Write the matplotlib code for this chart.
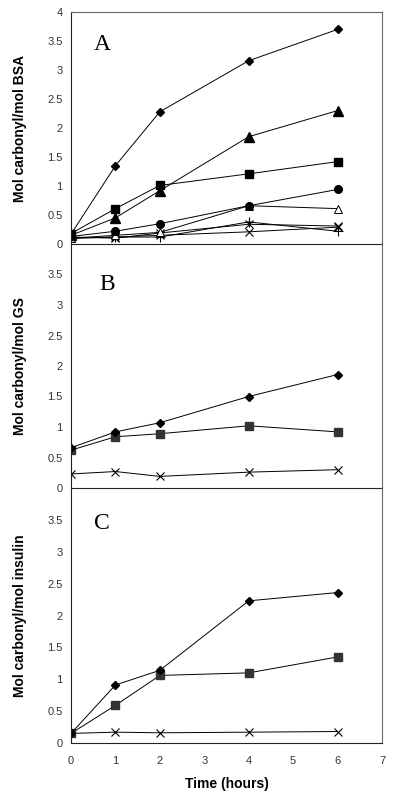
import numpy as np
import matplotlib
matplotlib.use('Agg')
from matplotlib import pyplot as plt

plt.rcParams['font.family'] = ['Liberation Sans', 'DejaVu Sans']

## Data
hours = [0, 1, 2, 4, 6]

## Panel A: BSA
bsa_diamond = [0.17, 1.35, 2.28, 3.16, 3.70]
bsa_triangle = [0.15, 0.45, 0.92, 1.85, 2.30]
bsa_square = [0.18, 0.61, 1.01, 1.21, 1.42]
bsa_circle = [0.13, 0.22, 0.35, 0.66, 0.94]
bsa_open_tri = [0.10, 0.15, 0.20, 0.66, 0.61]
bsa_plus = [0.10, 0.12, 0.12, 0.38, 0.22]
bsa_star = [0.12, 0.10, 0.19, 0.34, 0.31]
bsa_x = [0.10, 0.12, 0.15, 0.21, 0.29]

## Panel B: GS
gs_diamond = [0.66, 0.92, 1.07, 1.50, 1.86]
gs_square = [0.62, 0.84, 0.89, 1.02, 0.92]
gs_x = [0.23, 0.27, 0.19, 0.26, 0.30]

## Panel C: insulin
ins_diamond = [0.15, 0.91, 1.14, 2.23, 2.36]
ins_square = [0.15, 0.59, 1.06, 1.10, 1.35]
ins_x = [0.15, 0.17, 0.16, 0.17, 0.18]

yticks_top = [0, 0.5, 1, 1.5, 2, 2.5, 3, 3.5, 4]
yticks_low = [0, 0.5, 1, 1.5, 2, 2.5, 3, 3.5]
xticks = [0, 1, 2, 3, 4, 5, 6, 7]

##-------------------------------------------------------------------------
## Figure
##-------------------------------------------------------------------------
fig = plt.figure(figsize=(4, 8.08), dpi=100)
W = 400.
H = 808.
left = 71 / W
width = 311 / W
axA = fig.add_axes([left, 1 - 244 / H, width, 232 / H])
axB = fig.add_axes([left, 1 - 488 / H, width, 244 / H])
axC = fig.add_axes([left, 1 - 743 / H, width, 255 / H])

lw = 0.7
kw = dict(color='k', lw=lw)
sq_col = '#333333'

# Panel A
axA.plot(hours, bsa_x, marker='x', ms=5.5, mew=0.8, **kw)
axA.plot(hours, bsa_star, marker='x', ms=5.5, mew=0.8, **kw)
axA.plot(hours, bsa_plus, marker='+', ms=7, mew=0.8, **kw)
axA.plot(hours, bsa_open_tri, marker='^', ms=5.5, mfc='white', mec='k', mew=0.7, **kw)
axA.plot(hours, bsa_circle, marker='o', ms=5.5, **kw)
axA.plot(hours, bsa_square, marker='s', ms=5.5, **kw)
axA.plot(hours, bsa_triangle, marker='^', ms=6.5, **kw)
axA.plot(hours, bsa_diamond, marker='D', ms=4.5, **kw)

# Panel B
axB.plot(hours, gs_x, marker='x', ms=5.5, mew=0.8, **kw)
axB.plot(hours, gs_square, marker='s', ms=5.5, mfc=sq_col, mec=sq_col, color='k', lw=lw)
axB.plot(hours, gs_diamond, marker='D', ms=4.5, **kw)

# Panel C
axC.plot(hours, ins_x, marker='x', ms=5.5, mew=0.8, **kw)
axC.plot(hours, ins_square, marker='s', ms=5.5, mfc=sq_col, mec=sq_col, color='k', lw=lw)
axC.plot(hours, ins_diamond, marker='D', ms=4.5, **kw)

labels = ['Mol carbonyl/mol BSA', 'Mol carbonyl/mol GS', 'Mol carbonyl/mol insulin']
letters = ['A', 'B', 'C']
letter_pos = [(0.10, 0.86), (0.115, 0.836), (0.10, 0.859)]
for ax, lab, let, pos in zip([axA, axB, axC], labels, letters, letter_pos):
    ax.patch.set_visible(False)
    ax.set_xlim(0, 7)
    ax.set_ylim(0, 4)
    ax.set_xticks(xticks)
    ax.tick_params(length=0, labelsize=8, labelcolor='#333333')
    ax.tick_params(axis='y', pad=6)
    ax.tick_params(axis='x', pad=9)
    ax.set_ylabel(lab, fontsize=10, fontweight='bold')
    ax.yaxis.set_label_coords(-0.142, 0.5)
    ax.text(pos[0], pos[1], let, transform=ax.transAxes, ha='center', va='center',
            fontsize=17, family='Liberation Serif')
    for s in ['left', 'bottom']:
        ax.spines[s].set_color('#222222')
        ax.spines[s].set_linewidth(0.8)
    for s in ['right', 'top']:
        ax.spines[s].set_color('#666666')
        ax.spines[s].set_linewidth(0.8)

axA.set_yticks(yticks_top)
axA.set_yticklabels([f'{v:g}' for v in yticks_top])
for ax in [axB, axC]:
    ax.set_yticks(yticks_low)
    ax.set_yticklabels([f'{v:g}' for v in yticks_low])
    ax.spines['top'].set_visible(False)
for ax in [axA, axB]:
    ax.set_xticklabels([])

axC.set_xticklabels([str(v) for v in xticks])
axC.set_xlabel('Time (hours)', fontsize=10, fontweight='bold', labelpad=8)

plt.savefig('out.png', dpi=100)
